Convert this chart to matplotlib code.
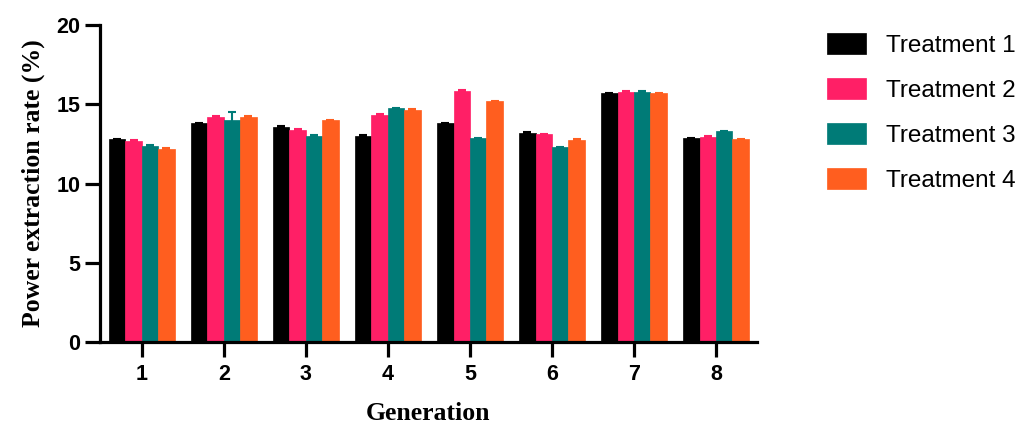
import matplotlib
matplotlib.use("Agg")
import matplotlib.pyplot as plt
import numpy as np

generations = ["1", "2", "3", "4", "5", "6", "7", "8"]
series_names = ["Treatment 1", "Treatment 2", "Treatment 3", "Treatment 4"]
t1 = [12.8, 13.8, 13.6, 13.0, 13.8, 13.2, 15.7, 12.85]
t2 = [12.7, 14.2, 13.4, 14.35, 15.85, 13.1, 15.8, 12.95]
t3 = [12.4, 14.0, 13.0, 14.75, 12.85, 12.3, 15.8, 13.3]
t4 = [12.2, 14.2, 14.0, 14.65, 15.2, 12.75, 15.7, 12.8]
e1 = [0.04, 0.04, 0.04, 0.04, 0.04, 0.04, 0.04, 0.04]
e2 = [0.04, 0.04, 0.04, 0.04, 0.04, 0.04, 0.04, 0.04]
e3 = [0.04, 0.5, 0.04, 0.04, 0.04, 0.04, 0.04, 0.04]
e4 = [0.04, 0.04, 0.04, 0.04, 0.04, 0.04, 0.04, 0.04]
colors = ["#000000", "#FF1F66", "#007B77", "#FF5E1F"]

fig = plt.figure(figsize=(10.32, 4.26), dpi=100)
ax = fig.add_axes([0.0969, 0.197, 0.6366, 0.744])

x = np.arange(1, len(generations) + 1)
w = 0.2
offsets = [-1.5 * w, -0.5 * w, 0.5 * w, 1.5 * w]
for vals, errs, c, name, off in zip([t1, t2, t3, t4], [e1, e2, e3, e4], colors, series_names, offsets):
    ax.bar(x + off, vals, width=w, color=c, label=name, edgecolor=c, linewidth=0.5,
           yerr=errs, error_kw=dict(ecolor=c, capsize=3, elinewidth=1.5, capthick=1.5))

ax.set_xlim(0.49, 8.5)
ax.set_ylim(0, 20)
ax.set_xticks(x)
ax.set_xticklabels(generations)
ax.set_yticks([0, 5, 10, 15, 20])
for s in ["top", "right"]:
    ax.spines[s].set_visible(False)
for s in ["left", "bottom"]:
    ax.spines[s].set_linewidth(2.3)
ax.tick_params(axis="both", width=2.3, length=11, labelsize=15.5)
ax.tick_params(axis="y", pad=3)
ax.tick_params(axis="x", pad=5)
for lab in ax.get_xticklabels() + ax.get_yticklabels():
    lab.set_fontfamily("Liberation Sans")
    lab.set_fontweight("bold")

ax.set_ylabel("Power extraction rate (%)", fontfamily="Liberation Serif", fontweight="bold", fontsize=18.5, labelpad=8)
ax.set_xlabel("Generation", fontfamily="Liberation Serif", fontweight="bold", fontsize=18.5, labelpad=12)

leg = fig.legend(loc="upper left", bbox_to_anchor=(0.79, 0.95), frameon=False, borderpad=0,
                 prop=dict(family="Liberation Sans", size=17.5),
                 handlelength=1.6, handleheight=0.95, labelspacing=0.87, handletextpad=0.82)

fig.savefig("out.png", dpi=100)
